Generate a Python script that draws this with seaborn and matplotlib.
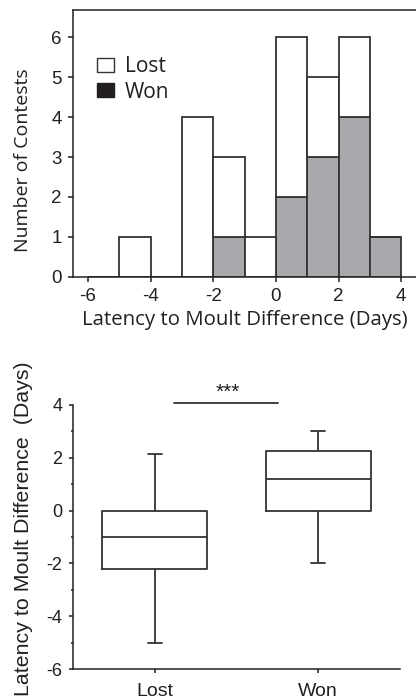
import numpy as np
import pandas as pd
import matplotlib
matplotlib.use("Agg")
import matplotlib.pyplot as plt
import seaborn as sns
from matplotlib.patches import Patch
from matplotlib.ticker import MultipleLocator

# ---- data ----
bin_edges = [-6, -5, -4, -3, -2, -1, 0, 1, 2, 3, 4]
bin_centers = [-4.5, -2.5, -1.5, -0.5, 0.5, 1.5, 2.5, 3.5]
lost_counts = [1, 4, 2, 1, 4, 2, 2, 0]
won_counts = [0, 0, 1, 0, 2, 3, 4, 1]

box_groups = ["Lost", "Won"]
lost_summary = [-5.0, -2.2, -1.0, 0.0, 2.15]   # min, Q1, median, Q3, max
won_summary = [-2.0, 0.0, 1.2, 2.25, 3.0]

hist_xticks = [-6, -4, -2, 0, 2, 4]
hist_yticks = [0, 1, 2, 3, 4, 5, 6]
box_yticks = [-6, -4, -2, 0, 2, 4]

sns.set_theme(style="ticks")
plt.rcParams["font.family"] = ["Liberation Sans", "DejaVu Sans"]
plt.rcParams["axes.unicode_minus"] = False
LAB = ["Open Sans", "DejaVu Sans"]
DARK = "#231f20"
LINE = "#333333"
GRAY = "#a7a9ac"
LW = 1.1

fig = plt.figure(figsize=(4.16, 6.99), dpi=100)
W, H = 416, 699

def ax_at(l, t, r, b):
    return fig.add_axes([l / W, 1 - b / H, (r - l) / W, (b - t) / H])

# ---- top: stacked histogram ----
ax1 = ax_at(73, 10, 420, 277)
hist_df = pd.DataFrame({
    "x": bin_centers * 2,
    "n": lost_counts + won_counts,
    "outcome": ["Lost"] * len(bin_centers) + ["Won"] * len(bin_centers),
})
sns.histplot(data=hist_df, x="x", weights="n", hue="outcome",
             hue_order=["Lost", "Won"], multiple="stack", bins=bin_edges,
             palette={"Lost": "white", "Won": GRAY}, alpha=1,
             edgecolor=LINE, linewidth=1.3, legend=False, ax=ax1)
ax1.set_xlim(-6.48, 4.6)
ax1.set_ylim(0, 6.675)
ax1.set_xticks(hist_xticks)
ax1.set_yticks(hist_yticks)
ax1.set_xticklabels([str(v) for v in hist_xticks])
for s in ax1.spines.values():
    s.set_color(DARK)
    s.set_linewidth(LW)
ax1.tick_params(axis="both", labelsize=13.5, length=3.6, width=LW, color=DARK,
                pad=4.5, labelcolor=DARK)
ax1.set_xlabel("Latency to Moult Difference (Days)", family=LAB, fontsize=14.7,
               color=DARK, va="top")
ax1.xaxis.set_label_coords(0.496, -0.125)
ax1.set_ylabel("Number of Contests", family=LAB, fontsize=14, color=DARK)
ax1.yaxis.set_label_coords(-0.118, 0.438)
handles = [Patch(facecolor="white", edgecolor=LINE, linewidth=1.0),
           Patch(facecolor=DARK, edgecolor=DARK, linewidth=1.0)]
leg = ax1.legend(handles, ["Lost", "Won"], loc="upper left",
                 bbox_to_anchor=(0.069, 0.828), frameon=False,
                 prop={"family": LAB, "size": 15}, handlelength=0.8,
                 handleheight=0.65, handletextpad=0.55, labelspacing=0.22,
                 borderpad=0, borderaxespad=0)
for t in leg.get_texts():
    t.set_color(DARK)

# ---- bottom: boxplot ----
ax2 = ax_at(73, 405, 400, 669)
box_df = pd.DataFrame({
    "group": ["Lost"] * len(lost_summary) + ["Won"] * len(won_summary),
    "value": lost_summary + won_summary,
})
sns.boxplot(data=box_df, x="group", y="value", order=box_groups, fill=False,
            width=0.64, color=LINE, linecolor=LINE, linewidth=1.3, whis=1.5,
            capwidths=0.086, ax=ax2)
ax2.set_xlim(-0.5, 1.5)
ax2.set_ylim(-6, 4)
ax2.set_yticks(box_yticks)
ax2.set_yticklabels([str(v) for v in box_yticks])
ax2.yaxis.set_minor_locator(MultipleLocator(1))
sns.despine(ax=ax2)
for s in ax2.spines.values():
    s.set_color(DARK)
    s.set_linewidth(LW)
ax2.tick_params(axis="both", which="major", labelsize=13, length=2.6,
                width=LW, color=DARK, pad=5, labelcolor=DARK)
ax2.tick_params(axis="y", which="minor", length=1.6, width=LW, color=DARK)
ax2.tick_params(axis="x", labelsize=14, pad=7.5)
ax2.set_xlabel("")
ax2.set_ylabel("Latency to Moult Difference  (Days)", fontsize=15.4,
               color=DARK)
ax2.yaxis.set_label_coords(-0.122, 0.53)
ax2.plot([0.12, 0.755], [4.065, 4.065], color=LINE, lw=1.3,
         clip_on=False)
ax2.text(0.448, 4.12, "***", ha="center", va="bottom", fontsize=15,
         color=DARK, clip_on=False)

fig.savefig("out.png", dpi=100)
